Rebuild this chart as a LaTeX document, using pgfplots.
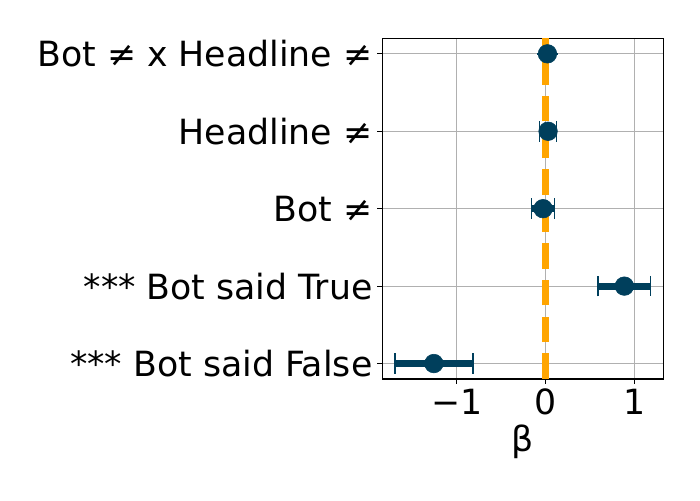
\documentclass[border=0pt]{standalone}
\usepackage{pgfplots}
\pgfplotsset{compat=1.18}
\usepackage{fontspec}
\setmainfont{DejaVu Sans}
\definecolor{navy}{RGB}{0,63,92}
\definecolor{mplorange}{RGB}{255,165,0}
\definecolor{gridgray}{RGB}{176,176,176}
\begin{document}
\begin{tikzpicture}
\path[use as bounding box] (-275.3pt,-87.1pt) rectangle (228.7pt,272.9pt);
\begin{axis}[
  at={(0,0)}, anchor=south west,
  scale only axis, width=202.3pt, height=245.3pt,
  xmin=-1.833, xmax=1.319, ymin=-0.2, ymax=4.2,
  xtick={-1,0,1}, xticklabels={−1,0,1},
  ytick={0,1,2,3,4},
  yticklabels={*** Bot said False,*** Bot said True,Bot ≠,Headline ≠,Bot ≠ x Headline ≠},
  tick align=outside, major tick length=3.5pt,
  tick style={black, line width=0.8pt},
  xtick pos=bottom, ytick pos=left,
  grid=major, major grid style={gridgray, line width=0.8pt},
  axis line style={black, line width=0.8pt},
  every tick label/.append style={font=\fontsize{25}{30}\selectfont},
  yticklabel style={inner sep=0pt, xshift=-3.5pt},
  xticklabel style={inner sep=0pt, yshift=-3.5pt},
  xlabel={β}, xlabel style={font=\fontsize{25}{30}\selectfont, inner sep=0pt, yshift=-7pt},
]
\addplot[mplorange, line width=5.2pt, dash pattern=on 18.5pt off 8pt] coordinates {(0,-0.2) (0,4.2)};
\addplot[only marks, mark=*, mark size=6.7pt, navy, mark options={fill=navy, draw=navy},
  error bars/.cd, x dir=both, x explicit,
  error bar style={line width=5.2pt, navy},
  error mark options={rotate=90, mark size=7.4pt, line width=1pt, navy}]
coordinates {
  (-1.255,0) +- (0.437,0)
  (0.882,1) +- (0.294,0)
  (-0.03,2) +- (0.13,0)
  (0.026,3) +- (0.094,0)
  (0.019,4) +- (0.0,0)
};
\end{axis}
\end{tikzpicture}
\end{document}
